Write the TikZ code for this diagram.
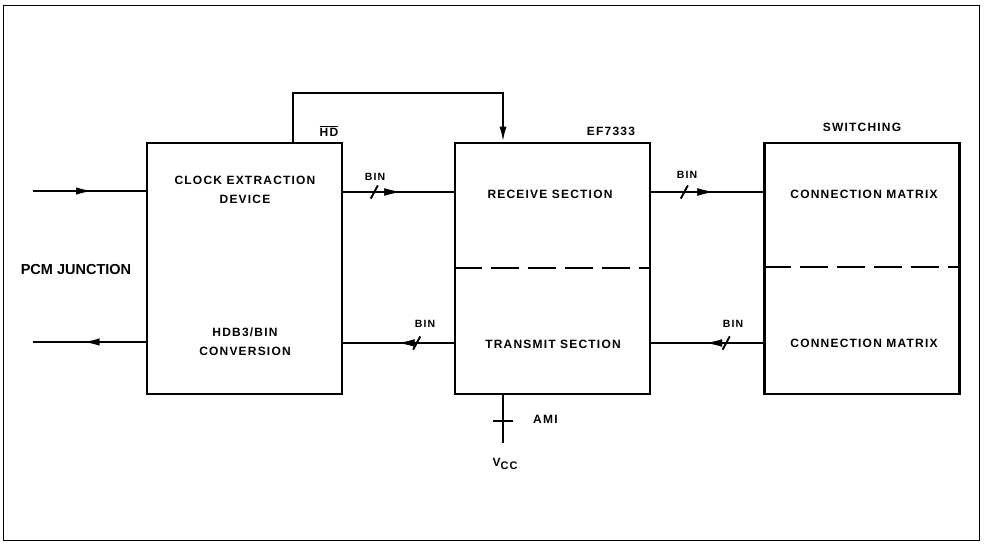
\documentclass[tikz,border=0pt]{standalone}
\usepackage{fontspec}
\setmainfont{Liberation Sans}
\newfontfamily\lab[LetterSpace=10]{Liberation Sans}
\usetikzlibrary{arrows.meta,decorations.markings}
\tikzset{
  blk/.style={draw, line width=2.6pt, minimum width=195pt, minimum height=251pt, inner sep=0pt},
  conn/.style={line width=2pt},
  sep/.style={line width=2pt, dash pattern=on 28pt off 9pt},
  lbl/.style={font=\lab\bfseries\fontsize{12}{19}\selectfont, align=center, inner sep=0pt},
  small/.style={font=\lab\bfseries\fontsize{10.5}{12}\selectfont, inner sep=0pt},
  tipat/.style={postaction={decorate}, decoration={markings,
     mark=at position #1 with {\arrow{Latex[length=17pt,width=7.5pt]}}}},
  slashat/.style={postaction={decorate}, decoration={markings,
     mark=at position #1 with {\draw[line width=1.6pt] (-3.5pt,-6.5pt) -- (3.5pt,6.5pt);}}},
  tickat/.style={postaction={decorate}, decoration={markings,
     mark=at position #1 with {\draw[line width=2pt] (0pt,-10pt) -- (0pt,10pt);}}}
}
\begin{document}
\begin{tikzpicture}[x=1pt,y=-1pt]
\useasboundingbox (0,0) rectangle (986,545);
\draw[line width=0.8pt] (3,5) rectangle (979,540);

% blocks
\node[blk] (clk) at (244.5,268.5) {};
\node[blk] (ef) at (552.5,268.5) {};
\node[blk] (sw) at (862,268.5) {};

% section separators
\coordinate (s1) at (0,268);
\coordinate (s2) at (0,267);
\draw[sep] (ef.west |- s1) -- (ef.east |- s1);
\draw[sep] (sw.west |- s2) -- (sw.east |- s2);

% texts
\node[lbl] (clkt) at (245,189.5) {CLOCK EXTRACTION\\DEVICE};
\node[lbl] (hdbt) at (245,341.5) {HDB3/BIN\\CONVERSION};
\node[lbl] (rxt) at (550,194) {RECEIVE SECTION};
\node[lbl] (txt) at (553,344) {TRANSMIT SECTION};
\node[lbl] (cm1) at (864,194) {CONNECTION MATRIX};
\node[lbl] (cm2) at (864,343) {CONNECTION MATRIX};
\node[lbl] (eft) at (611,131) {EF7333};
\node[lbl] (swt) at (862,127) {SWITCHING};
\node[font=\bfseries\fontsize{14.5}{16}\selectfont, inner sep=0pt] (pcm) at (76,270) {PCM JUNCTION};
\node[lbl] (hdt) at (329,131) {$\overline{\mbox{\lab\bfseries HD}}$};
\node[lbl, anchor=west] (ami) at (533,419) {AMI};
\node[lbl] (vcct) at (505,464) {V\raisebox{-3.5pt}{\fontsize{11}{11}\selectfont CC}};

% BIN labels
\node[small] (b1) at (375,177) {BIN};
\node[small] (b2) at (425,324) {BIN};
\node[small] (b3) at (687,175) {BIN};
\node[small] (b4) at (733,324) {BIN};

% helper coordinates
\coordinate (ry) at (0,192);
\coordinate (ty) at (0,343);
\coordinate (pin) at (33,191);
\coordinate (pout) at (33,342);
\coordinate (fa) at (293,93);
\coordinate (fb) at (503,93);
\coordinate (vcc) at (503,443);

% PCM in/out
\draw[conn, tipat=60pt] (pin) -- (clk.west |- pin);
\draw[conn, tipat=63pt] (clk.west |- pout) -- (pout);

% BIN connections
\draw[conn, slashat=31pt, tipat=58pt] (clk.east |- ry) -- (ef.west |- ry);
\draw[conn, slashat=37pt, tipat=56pt] (ef.west |- ty) -- (clk.east |- ty);
\draw[conn, slashat=33pt, tipat=63pt] (ef.east |- ry) -- (sw.west |- ry);
\draw[conn, slashat=37pt, tipat=58pt] (sw.west |- ty) -- (ef.east |- ty);

% HD feedback
\draw[conn, -{Latex[length=15pt,width=7pt]}] (clk.north -| fa) -- (fa) -- (fb) -- (ef.north -| fb);

% AMI / Vcc
\draw[conn, tickat=26pt] (ef.south -| vcc) -- (vcc);
\end{tikzpicture}
\end{document}
